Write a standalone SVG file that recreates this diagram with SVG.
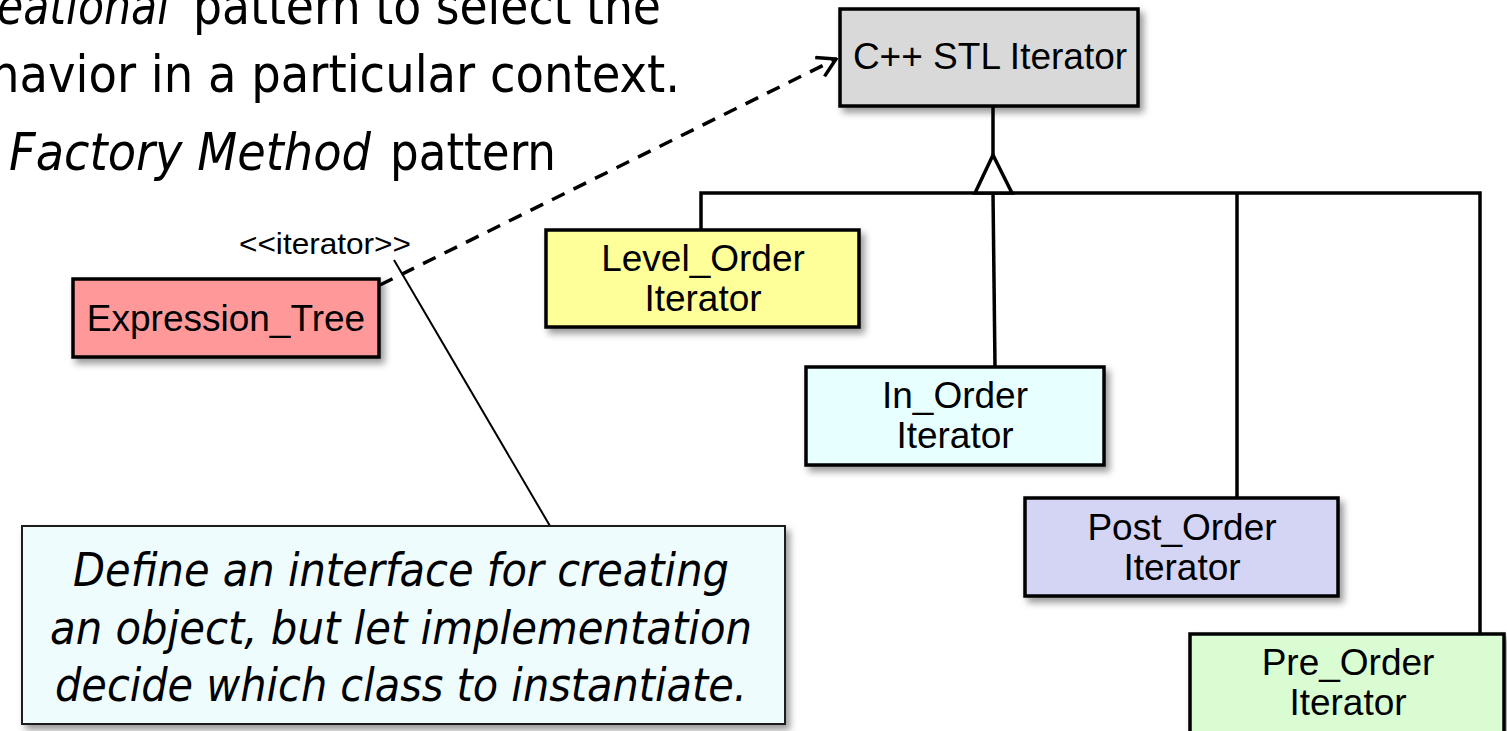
<svg xmlns="http://www.w3.org/2000/svg" width="1507" height="731" viewBox="0 0 1507 731">
  <style>
    .head { font-family: "DejaVu Sans Condensed", "DejaVu Sans", sans-serif; font-size: 52px; fill: #000; }
    .it { font-style: italic; }
    .cls { stroke: #000; stroke-width: 3.5; filter: url(#shadow); }
    .lbl { font-family: "Liberation Sans", Arial, sans-serif; font-size: 37px; fill: #000; text-anchor: middle; }
    .stereo { font-family: "Liberation Sans", Arial, sans-serif; font-size: 30px; fill: #000; }
    .gen { fill: none; stroke: #000; stroke-width: 3.5; }
    .dep { fill: none; stroke: #000; stroke-width: 3.5; stroke-dasharray: 14 10; }
    .link { fill: none; stroke: #000; stroke-width: 2; }
    .note { fill: #effcfd; stroke: #1a1a1a; stroke-width: 2; filter: url(#shadow); }
    .notetxt { font-family: "DejaVu Sans Condensed", "DejaVu Sans", sans-serif; font-style: italic; font-size: 47px; fill: #000; text-anchor: middle; }
  </style>
  <defs>
    <filter id="shadow" x="-10%" y="-10%" width="130%" height="140%">
      <feDropShadow dx="4" dy="5" stdDeviation="3.5" flood-color="#000" flood-opacity="0.4"/>
    </filter>
    <marker id="open-arrow" markerUnits="userSpaceOnUse" markerWidth="22" markerHeight="24" viewBox="0 0 22 24" refX="20" refY="12" orient="auto">
      <path d="M2,1.5 L20,12 L2,22.5" fill="none" stroke="#000" stroke-width="3.5"/>
    </marker>
  </defs>

  <rect width="1507" height="731" fill="#fff"/>

  <!-- heading text, partly running off the left and top edges -->
  <g id="heading">
    <text class="head it" x="-3" y="24" textLength="172" lengthAdjust="spacingAndGlyphs">eational</text>
    <text class="head" x="193" y="24" textLength="468" lengthAdjust="spacingAndGlyphs">pattern to select the</text>
    <text class="head" x="-10" y="92" textLength="690" lengthAdjust="spacingAndGlyphs">havior in a particular context.</text>
    <text class="head it" x="9" y="170" textLength="362" lengthAdjust="spacingAndGlyphs">Factory Method</text>
    <text class="head" x="390" y="170" textLength="166" lengthAdjust="spacingAndGlyphs">pattern</text>
  </g>

  <!-- connectors -->
  <g id="connectors">
    <!-- generalization tree -->
    <line class="gen" x1="993" y1="107" x2="993" y2="155"/>
    <polyline class="gen" points="701,230 701,193 1480,193 1480,634"/>
    <line class="gen" x1="993" y1="193" x2="995" y2="367"/>
    <line class="gen" x1="1237" y1="193" x2="1237" y2="498"/>
    <polygon points="993,155 975,193 1012,193" fill="#fff" stroke="#000" stroke-width="3.5" stroke-linejoin="miter"/>
    <!-- dependency -->
    <line class="dep" x1="380" y1="285" x2="836" y2="59" marker-end="url(#open-arrow)"/>
    <!-- note anchor -->
    <line class="link" x1="394" y1="260" x2="550" y2="526"/>
    <text class="stereo" x="239" y="254" textLength="172" lengthAdjust="spacingAndGlyphs">&lt;&lt;iterator&gt;&gt;</text>
  </g>

  <g id="stl-iterator">
    <rect class="cls" x="840" y="9" width="298" height="97" fill="#d9d9d9"/>
    <text class="lbl" x="990" y="69">C++ STL Iterator</text>
  </g>

  <g id="expression-tree">
    <rect class="cls" x="73" y="279" width="306" height="78" fill="#ff9999"/>
    <text class="lbl" x="226" y="331">Expression_Tree</text>
  </g>

  <g id="level-order">
    <rect class="cls" x="546" y="230" width="313" height="97" fill="#ffff99"/>
    <text class="lbl" x="703" y="271">Level_Order</text>
    <text class="lbl" x="703" y="311">Iterator</text>
  </g>

  <g id="in-order">
    <rect class="cls" x="806" y="367" width="298" height="98" fill="#e8ffff"/>
    <text class="lbl" x="955" y="408">In_Order</text>
    <text class="lbl" x="955" y="448">Iterator</text>
  </g>

  <g id="post-order">
    <rect class="cls" x="1025" y="498" width="313" height="98" fill="#d4d4f4"/>
    <text class="lbl" x="1182" y="540">Post_Order</text>
    <text class="lbl" x="1182" y="580">Iterator</text>
  </g>

  <g id="pre-order">
    <rect class="cls" x="1190" y="634" width="314" height="110" fill="#d9fcd2"/>
    <text class="lbl" x="1348" y="675">Pre_Order</text>
    <text class="lbl" x="1348" y="715">Iterator</text>
  </g>

  <g id="note">
    <rect class="note" x="22" y="526" width="763" height="198"/>
    <text class="notetxt" x="401" y="586" textLength="656" lengthAdjust="spacingAndGlyphs">Define an interface for creating</text>
    <text class="notetxt" x="401" y="644" textLength="702" lengthAdjust="spacingAndGlyphs">an object, but let implementation</text>
    <text class="notetxt" x="401" y="701" textLength="692" lengthAdjust="spacingAndGlyphs">decide which class to instantiate.</text>
  </g>
</svg>
